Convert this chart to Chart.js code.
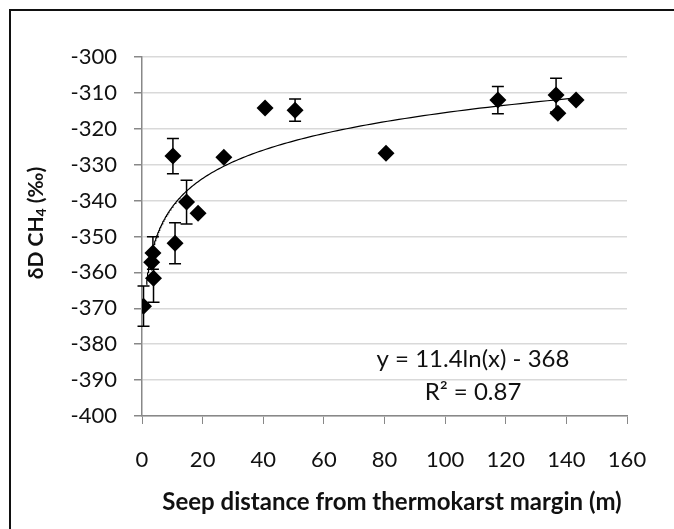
<!DOCTYPE html>
<html>
<head>
<meta charset="utf-8">
<script src="https://cdn.jsdelivr.net/npm/chart.js@4"></script>
<style>
    html, body { margin: 0; padding: 0; background: #fff; overflow: hidden; }
    #wrap { position: relative; width: 674px; height: 529px; }
    #frame { position: absolute; left: 9px; top: 9px; width: 700px; height: 560px; border: 2px solid #111; box-sizing: border-box; pointer-events: none; }
</style>
</head>
<body>
<div id="wrap">
    <canvas id="chart" width="674" height="529"></canvas>
    <div id="frame"></div>
</div>
<script>
// 数据
const distances = [0.5, 3.6, 3.2, 3.8, 10.2, 14.7, 18.5, 10.9, 27.0, 40.6, 50.5, 80.5, 117.4, 136.6, 137.2, 143.2];
const deltaD = [-369.4, -354.6, -357.2, -361.6, -327.6, -340.4, -343.5, -351.9, -327.9, -314.2, -314.8, -326.8, -312.0, -310.6, -315.7, -312.0];
const errors = [5.6, 4.5, 0, 6.7, 4.9, 6.1, 0, 5.7, 0, 0, 3.1, 0, 3.8, 4.7, 0, 0];
const xTicks = [0, 20, 40, 60, 80, 100, 120, 140, 160];
const yTicks = [-400, -390, -380, -370, -360, -350, -340, -330, -320, -310, -300];

// 对数趋势线 y = a ln(x) + b
const trendA = 11.4;
const trendB = -368;
const trendStart = 1.5;
const trendEnd = 143.2;

const trendPoints = [];
for (let i = 0; i <= 200; i++) {
    const x = trendStart * Math.pow(trendEnd / trendStart, i / 200);
    trendPoints.push({ x: x, y: trendA * Math.log(x) + trendB });
}

const FONT = 'Lato, "Open Sans", sans-serif';

// 误差线插件
const errorBarPlugin = {
    id: 'errorBars',
    beforeDatasetsDraw(chart) {
        const ctx = chart.ctx;
        const xs = chart.scales.x;
        const ys = chart.scales.y;
        ctx.save();
        ctx.strokeStyle = '#000';
        ctx.lineWidth = 1.5;
        distances.forEach((d, i) => {
            if (!errors[i]) return;
            const px = xs.getPixelForValue(d);
            const top = ys.getPixelForValue(deltaD[i] + errors[i]);
            const bot = ys.getPixelForValue(deltaD[i] - errors[i]);
            ctx.beginPath();
            ctx.moveTo(px, top); ctx.lineTo(px, bot);
            ctx.moveTo(px - 6, top); ctx.lineTo(px + 6, top);
            ctx.moveTo(px - 6, bot); ctx.lineTo(px + 6, bot);
            ctx.stroke();
        });
        ctx.restore();
    }
};

// 轴标题和公式文字
const textPlugin = {
    id: 'texts',
    afterDraw(chart) {
        const ctx = chart.ctx;
        ctx.save();
        ctx.fillStyle = '#111';
        ctx.textBaseline = 'middle';

        // 公式
        ctx.font = '24px ' + FONT;
        ctx.textAlign = 'center';
        ctx.fillText('y = 11.4ln(x) - 368', 473, 359);
        ctx.fillText('R² = 0.87', 473, 392);

        // x轴标题
        ctx.font = 'bold 24px ' + FONT;
        ctx.fillText('Seep distance from thermokarst margin (m)', 392, 502);

        // y轴标题（带下标）
        ctx.translate(36, 223);
        ctx.rotate(-Math.PI / 2);
        const big = 'bold 21px ' + FONT;
        const small = 'bold 14px ' + FONT;
        const parts = [['δD CH', big, 0], ['4', small, 5], [' (‰)', big, 0]];
        let total = 0;
        parts.forEach(p => { ctx.font = p[1]; total += ctx.measureText(p[0]).width; });
        let x = -total / 2;
        ctx.textAlign = 'left';
        parts.forEach(p => {
            ctx.font = p[1];
            ctx.fillText(p[0], x, p[2]);
            x += ctx.measureText(p[0]).width;
        });
        ctx.restore();
    }
};

new Chart(document.getElementById('chart'), {
    type: 'scatter',
    data: {
        datasets: [
            {
                label: 'δD CH4',
                data: distances.map((d, i) => ({ x: d, y: deltaD[i] })),
                pointStyle: 'rectRot',
                pointRadius: 8.5,
                pointHoverRadius: 8.5,
                backgroundColor: '#000',
                borderColor: '#000',
                borderWidth: 0
            },
            {
                label: 'trend',
                type: 'line',
                data: trendPoints,
                borderColor: '#000',
                borderWidth: 1.2,
                pointRadius: 0,
                fill: false,
                tension: 0
            }
        ]
    },
    options: {
        responsive: false,
        animation: false,
        layout: { padding: { top: 57, right: 47, left: 0, bottom: 0 } },
        plugins: {
            legend: { display: false },
            tooltip: { enabled: false }
        },
        scales: {
            x: {
                type: 'linear',
                min: 0,
                max: 160,
                afterBuildTicks: axis => { axis.ticks = xTicks.map(v => ({ value: v })); },
                afterFit: axis => { axis.height = 113; },
                grid: { drawOnChartArea: false, drawTicks: true, tickLength: 8, tickColor: '#888' },
                border: { color: '#888', width: 1.5 },
                ticks: { color: '#111', font: { family: FONT, size: 22 }, padding: 23 }
            },
            y: {
                min: -400,
                max: -300,
                afterBuildTicks: axis => { axis.ticks = yTicks.map(v => ({ value: v })); },
                afterFit: axis => { axis.width = 142; },
                grid: { color: '#d9d9d9', lineWidth: 1.5, drawTicks: true, tickLength: 8, tickColor: '#888' },
                border: { color: '#888', width: 1.5 },
                ticks: { color: '#111', font: { family: FONT, size: 22 }, padding: 17 }
            }
        }
    },
    plugins: [errorBarPlugin, textPlugin]
});
</script>
</body>
</html>
